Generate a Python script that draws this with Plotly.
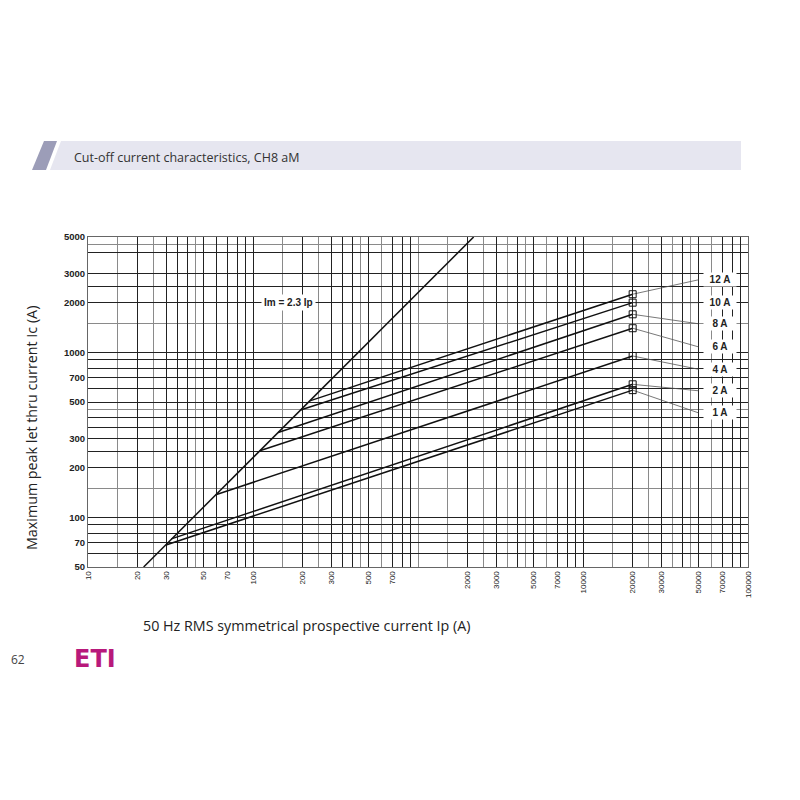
import math
import plotly.graph_objects as go

# ---------------- data ----------------
fuse_labels = ["12 A", "10 A", "8 A", "6 A", "4 A", "2 A", "1 A"]
start_ip = [221, 194, 142, 110, 59.5, 32, 29.7]
start_ic = [508, 447, 327, 253, 137, 74, 68]
end_ip = [20000, 20000, 20000, 20000, 20000, 20000, 20000]
end_ic = [2250, 2000, 1700, 1400, 950, 640, 590]
label_ic = [2750, 2000, 1490, 1080, 790, 585, 430]
leader_ip = 50000
label_ip = 68000

im_ratio = 2.3
im_range = [50, 5000]

x_tick_labels = [10, 20, 30, 50, 70, 100, 200, 300, 500, 700, 2000, 3000, 5000,
                 7000, 10000, 20000, 30000, 50000, 70000, 100000]
x_grid_dark = [10, 20, 30, 35, 40, 50, 60, 70, 80, 90, 100, 200, 300, 350, 400, 500,
               700, 800, 900, 2000, 3000, 4000, 5000, 7000, 8000, 9000, 10000, 20000,
               30000, 40000, 50000, 70000, 80000, 90000, 100000]
x_grid_light = [15, 25, 45, 150, 250, 450, 600, 1000, 1500, 2500, 3500, 4500, 6000,
                15000, 25000, 35000, 45000, 60000]

y_tick_labels = [50, 70, 100, 200, 300, 500, 700, 1000, 2000, 3000, 5000]
y_grid_dark = [50, 60, 70, 80, 90, 100, 200, 250, 300, 350, 400, 500, 600, 700, 800,
               900, 1000, 2000, 2500, 3000, 4000, 5000]
y_grid_light = [150, 450, 1500, 4500]

header_text = "Cut-off current characteristics, CH8 aM"
x_title = "50 Hz RMS symmetrical prospective current Ip (A)"
y_title = "Maximum peak let thru current Ic (A)"
im_label = "Im = 2.3 Ip"
im_label_pos = (163, 2000)
page_number = "62"
logo_text = "ETI"

# ---------------- layout helpers ----------------
# plot area in page pixels; page has an 8px body margin
OFF = 8
L, R, T, B = 88, 748, 237, 567


def px(x):
    return (x - L) / (R - L)


def py(y):
    return (B - y) / (B - T)


fig = go.Figure()

# Im = 2.3 Ip line
fig.add_trace(go.Scatter(
    x=[v / im_ratio for v in im_range], y=im_range, mode="lines",
    line=dict(color="#111111", width=1.5), showlegend=False, hoverinfo="skip"))

# fuse lines
for i, name in enumerate(fuse_labels):
    fig.add_trace(go.Scatter(
        x=[start_ip[i], end_ip[i]], y=[start_ic[i], end_ic[i]], mode="lines",
        line=dict(color="#111111", width=1.5), showlegend=False, name=name))
    fig.add_trace(go.Scatter(
        x=[end_ip[i], leader_ip], y=[end_ic[i], label_ic[i]], mode="lines",
        line=dict(color="#555555", width=0.8), showlegend=False, hoverinfo="skip"))
    fig.add_annotation(
        x=math.log10(label_ip), y=math.log10(label_ic[i]), xref="x", yref="y",
        text="<b>%s</b>" % name, showarrow=False, bgcolor="white",
        font=dict(family="Liberation Sans", size=10, color="#222222"),
        width=30, borderpad=1)

fig.add_trace(go.Scatter(
    x=end_ip, y=end_ic, mode="markers",
    marker=dict(symbol="square-open", size=7, color="#111111", line=dict(width=1)),
    showlegend=False))

fig.add_annotation(
    x=math.log10(im_label_pos[0]), y=math.log10(im_label_pos[1]), xref="x", yref="y",
    text="<b>%s</b>" % im_label, showarrow=False, bgcolor="white",
    font=dict(family="Liberation Sans", size=10, color="#222222"), borderpad=2)

x_ticktext = [str(v) if v in x_tick_labels else "" for v in x_grid_dark]
y_ticktext = [str(v) if v in y_tick_labels else "" for v in y_grid_dark]

fig.update_xaxes(
    type="log", range=[1, 5], tickmode="array", tickvals=x_grid_dark, ticktext=x_ticktext,
    tickangle=-90, showgrid=True, gridcolor="#222222", gridwidth=1,
    minor=dict(tickmode="array", tickvals=x_grid_light, showgrid=True,
               gridcolor="#8a8a8a", gridwidth=1, ticks=""),
    ticks="", showline=True, linecolor="#666666", mirror=True, zeroline=False,
    tickfont=dict(family="Liberation Sans", size=8, color="#222222"))
fig.update_yaxes(
    type="log", range=[math.log10(50), math.log10(5000)], tickmode="array",
    tickvals=y_grid_dark, ticktext=y_ticktext, showgrid=True, gridcolor="#222222",
    gridwidth=1,
    minor=dict(tickmode="array", tickvals=y_grid_light, showgrid=True,
               gridcolor="#8a8a8a", gridwidth=1, ticks=""),
    ticks="", showline=True, linecolor="#666666", mirror=True, zeroline=False,
    tickfont=dict(family="Liberation Sans", size=9.5, color="#222222", weight="bold"))

shapes = [
    dict(type="path", xref="paper", yref="paper", line=dict(width=0), fillcolor="#e6e6f0",
         path="M %f %f L %f %f L %f %f L %f %f Z" % (px(61), py(141), px(741), py(141),
                                                    px(741), py(170), px(50), py(170))),
    dict(type="path", xref="paper", yref="paper", line=dict(width=0), fillcolor="#9c9db8",
         path="M %f %f L %f %f L %f %f L %f %f Z" % (px(44), py(141), px(57), py(141),
                                                    px(46), py(170), px(32), py(170))),
]
fig.update_layout(shapes=shapes)

fig.add_annotation(x=px(72), y=py(157), xref="paper", yref="paper", xanchor="left",
                   yanchor="middle", text=header_text, showarrow=False,
                   font=dict(family="Open Sans", size=12.5, color="#333333"))
fig.add_annotation(x=px(306), y=py(625), xref="paper", yref="paper", xanchor="center",
                   yanchor="middle", text=x_title, showarrow=False,
                   font=dict(family="Open Sans", size=14.3, color="#222222"))
fig.add_annotation(x=px(31), y=py(428), xref="paper", yref="paper", xanchor="center",
                   yanchor="middle", text=y_title, showarrow=False, textangle=-90,
                   font=dict(family="Open Sans", size=14.3, color="#222222"))
fig.add_annotation(x=px(OFF + 1), y=py(659), xref="paper", yref="paper", xanchor="left",
                   yanchor="middle", text=page_number, showarrow=False,
                   font=dict(family="Open Sans", size=12, color="#444444"))
fig.add_annotation(x=px(72), y=py(659), xref="paper", yref="paper", xanchor="left",
                   yanchor="middle", text="<b>%s</b>" % logo_text, showarrow=False,
                   font=dict(family="DejaVu Sans", size=24, color="#b8197b"))

fig.update_layout(
    width=800, height=800, autosize=False,
    margin=dict(l=L - OFF, r=800 - (R - OFF), t=T - OFF, b=800 - (B - OFF), pad=0),
    paper_bgcolor="white", plot_bgcolor="white", showlegend=False,
)

fig.write_html("out.html")
